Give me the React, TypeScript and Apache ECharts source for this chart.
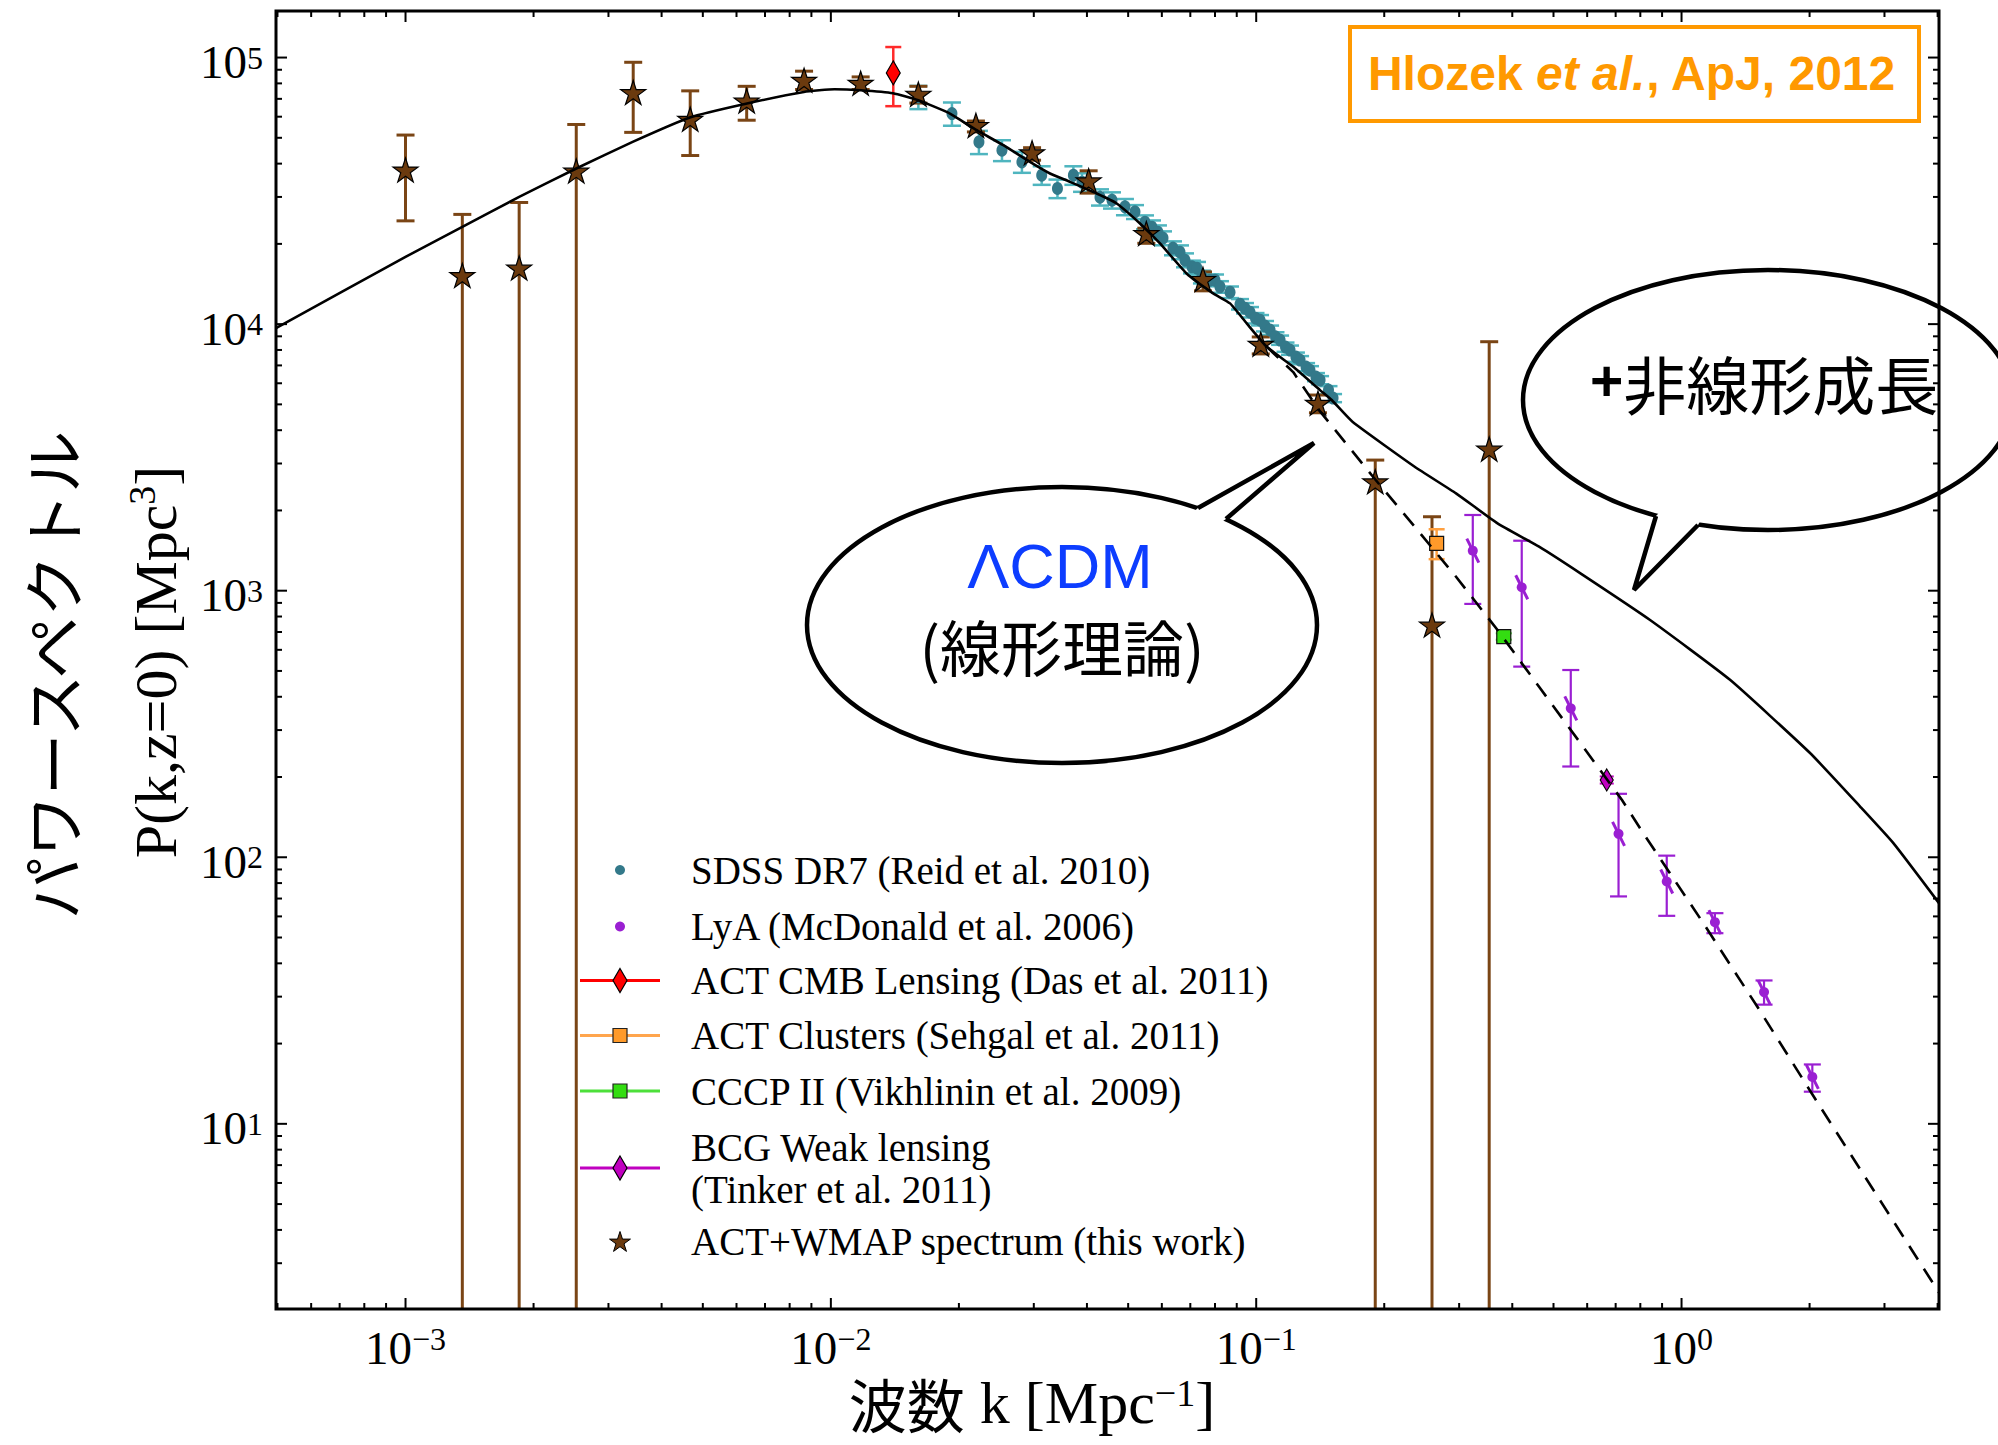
import { useEffect, useRef } from "react";
import * as echarts from "echarts";

// Axis ranges: wavenumber k [Mpc^-1] and power P(k, z=0) [Mpc^3]
const K_MIN = 4.96e-4;
const K_MAX = 4.03;
const P_MIN = 2.02;
const P_MAX = 1.495e5;

// Model curve including nonlinear growth (solid)
const nonlinK = [4.96e-4, 1.0e-3, 1.36e-3, 1.85e-3, 2.52e-3, 3.42e-3, 4.66e-3, 6.35e-3, 8.64e-3, 0.0102, 0.01175, 0.014, 0.01606, 0.01905, 0.02203, 0.02543, 0.02938, 0.03275, 0.03649, 0.04217, 0.04699, 0.0533, 0.0594, 0.0686, 0.0792, 0.0868, 0.095, 0.1059, 0.1222, 0.1413, 0.1505, 0.1684, 0.2358, 0.295, 0.3693, 0.4624, 0.5785, 0.8433, 1.3, 2.005, 2.629, 3.148, 4.03];
const nonlinP = [9660, 17880, 23170, 30020, 38360, 48260, 59570, 67220, 74300, 76050, 75400, 73470, 69160, 61660, 53390, 46910, 40600, 36730, 34170, 30900, 28360, 23860, 20070, 15490, 13040, 11960, 10060, 8220, 6920, 5655, 5190, 4302, 2917, 2318, 1789, 1462, 1161, 776, 463, 246, 155, 113, 67.3];

// Linear-theory ΛCDM continuation (dashed)
const linK = [0.1059, 0.1222, 0.1405, 0.1882, 0.2358, 0.295, 0.3693, 0.4624, 0.5785, 0.7244, 0.8131, 1.125, 1.53, 2.117, 4.03];
const linP = [8220, 6607, 4760, 2676, 1738, 1128, 712, 436, 268, 164, 123, 56.6, 26.5, 11.6, 2.33];

// SDSS DR7 (Reid et al. 2010): k, P and fractional 1-sigma error
const sdssK = [0.01606, 0.01926, 0.02229, 0.02525, 0.02813, 0.03131, 0.0341, 0.03717, 0.03895, 0.04293, 0.04581, 0.04914, 0.05188, 0.05477, 0.05689, 0.05875, 0.06038, 0.06373, 0.0662, 0.06802, 0.07063, 0.07258, 0.07455, 0.07786, 0.08, 0.08219, 0.08678, 0.0916, 0.09412, 0.09669, 0.09963, 0.1021, 0.1049, 0.1078, 0.111, 0.1138, 0.1172, 0.1201, 0.124, 0.1268, 0.131, 0.1338, 0.1382, 0.1413, 0.1479, 0.1516];
const sdssP = [71170, 61660, 48260, 44920, 40600, 36200, 32270, 36200, 34080, 29940, 29170, 27540, 26370, 24130, 23100, 22130, 21020, 19280, 18620, 17380, 16400, 16220, 15040, 14620, 14620, 13800, 13180, 11880, 11480, 11090, 10530, 10350, 9830, 9495, 8964, 8710, 8200, 7990, 7520, 7330, 6900, 6720, 6330, 6166, 5655, 5280];
const sdssErr = [0.1, 0.1, 0.1, 0.09, 0.09, 0.08, 0.08, 0.08, 0.08, 0.07, 0.07, 0.07, 0.06, 0.06, 0.06, 0.06, 0.06, 0.06, 0.06, 0.06, 0.055, 0.055, 0.055, 0.05, 0.05, 0.05, 0.05, 0.045, 0.045, 0.045, 0.045, 0.045, 0.045, 0.04, 0.04, 0.04, 0.04, 0.04, 0.04, 0.035, 0.035, 0.035, 0.035, 0.035, 0.035, 0.035];

// Lyman-alpha forest (McDonald et al. 2006)
const lyaK = [0.323, 0.421, 0.549, 0.711, 0.923, 1.198, 1.563, 2.03];
const lyaP = [1413, 1030, 362, 122.4, 81.1, 57.1, 31.2, 15.0];
const lyaLo = [892, 519, 219, 71.3, 60.3, 51.9, 28.0, 13.2];
const lyaHi = [1923, 1540, 504, 173, 101.4, 61.7, 34.5, 16.7];

// ACT+WMAP reconstructed spectrum; a lower bound of 1 runs off the bottom of the axis
const actK = [0.001, 0.00136, 0.00185, 0.00252, 0.00343, 0.00467, 0.00634, 0.00865, 0.01175, 0.01606, 0.02193, 0.02972, 0.04037, 0.05517, 0.07497, 0.1025, 0.1397, 0.1905, 0.259, 0.353];
const actP = [37550, 15100, 16100, 37200, 73300, 58200, 68200, 81500, 79400, 72300, 55200, 43600, 34200, 21700, 14600, 8340, 5010, 2540, 737, 3370];
const actLo = [24400, 1, 1, 1, 52400, 42900, 58200, 75900, 75900, 67500, 52600, 41200, 31000, 20100, 13330, 7730, 4650, 1, 1, 1];
const actHi = [51200, 25800, 28600, 56100, 96000, 75000, 78000, 88900, 84600, 78000, 57800, 45900, 37600, 22900, 15700, 8950, 5420, 3090, 1894, 8590];

// Single-point probes: [k, P, lower, upper]
const lensPoint = [0.01402, 87600, 65700, 109500];
const clusterPoint = [0.2656, 1506, 1313, 1700];
const cccpPoint = [0.382, 673, 655, 692];
const bcgPoint = [0.667, 195, 189, 201];

// Legend entries
const legendLabels = [
  "SDSS DR7 (Reid et al. 2010)",
  "LyA (McDonald et al. 2006)",
  "ACT CMB Lensing (Das et al. 2011)",
  "ACT Clusters (Sehgal et al. 2011)",
  "CCCP II (Vikhlinin et al. 2009)",
  "BCG Weak lensing\n(Tinker et al. 2011)",
  "ACT+WMAP spectrum (this work)",
];

const SERIF = "'Liberation Serif', 'Times New Roman', serif";
const SANS = "'Liberation Sans', Arial, sans-serif";
const CJK = "'Noto Sans CJK JP', sans-serif";

const C_SDSS = "#33798a";
const C_SDSS_ERR = "#4fb5bf";
const C_LYA = "#9a1fd2";
const C_ACT = "#6b3a0e";
const C_ACT_ERR = "#7a4515";
const C_LENS = "#ff0000";
const C_CLUSTER = "#ff9a2a";
const C_CCCP = "#33dd11";
const C_BCG = "#c000c0";

const STAR_PATH =
  "path://M0,-100L22.45,-30.9L95.1,-30.9L36.33,11.8L58.78,80.9L0,38.2L-58.78,80.9L-36.33,11.8L-95.1,-30.9L-22.45,-30.9Z";

function starPoints(cx: number, cy: number, r: number) {
  const pts: number[][] = [];
  for (let i = 0; i < 10; i++) {
    const rr = i % 2 === 0 ? r : r * 0.382;
    const a = -Math.PI / 2 + (i * Math.PI) / 5;
    pts.push([cx + rr * Math.cos(a), cy + rr * Math.sin(a)]);
  }
  return pts;
}

function errorBars(color: string, lineWidth: number, cap: number, slant = false) {
  return (_p: any, api: any) => {
    const k = api.value(0);
    const p = api.value(1);
    const top = api.coord([k, api.value(3)]);
    const bot = api.coord([k, api.value(2)]);
    const style = { stroke: color, lineWidth };
    const children: any[] = [
      { type: "line", shape: { x1: top[0], y1: top[1], x2: bot[0], y2: bot[1] }, style },
      { type: "line", shape: { x1: top[0] - cap, y1: top[1], x2: top[0] + cap, y2: top[1] }, style },
      { type: "line", shape: { x1: bot[0] - cap, y1: bot[1], x2: bot[0] + cap, y2: bot[1] }, style },
    ];
    if (slant) {
      const c = api.coord([k, p]);
      children.push({
        type: "line",
        shape: { x1: c[0] - 6, y1: c[1] - 12, x2: c[0] + 6, y2: c[1] + 12 },
        style: { stroke: color, lineWidth: 3 },
      });
    }
    return { type: "group", children };
  };
}

function tickValues(e0: number, e1: number, lo: number, hi: number) {
  const out: { v: number; major: number }[] = [];
  for (let e = e0; e <= e1; e++) {
    for (let m = 1; m <= 9; m++) {
      const v = m * Math.pow(10, e);
      if (v > lo * 1.001 && v < hi * 0.999) out.push({ v, major: m === 1 ? 1 : 0 });
    }
  }
  return out;
}

function powerLabel(v: number) {
  const e = Math.round(Math.log10(v));
  return `{b|10}{s|${e < 0 ? "\u2212" + -e : e}}`;
}

function buildOption() {
  const zip4 = (k: number[], p: number[], lo: number[], hi: number[]) => k.map((x, i) => [x, p[i], lo[i], hi[i]]);
  const sdssRows = sdssK.map((k, i) => [k, sdssP[i], sdssP[i] * (1 - sdssErr[i]), sdssP[i] * (1 + sdssErr[i])]);

  const xTicks = tickValues(-4, 0, K_MIN, K_MAX).map((t) => [t.v, P_MIN, t.major]);
  const yTicks = tickValues(0, 5, P_MIN, P_MAX).map((t) => [K_MIN, t.v, t.major]);

  const legendY = [870, 926.5, 980.5, 1035.5, 1091, 1168, 1241.5];
  const IX = 620;
  const TX = 691;

  const legendIcons: any[] = [
    { type: "circle", shape: { cx: IX, cy: legendY[0], r: 5 }, style: { fill: C_SDSS } },
    { type: "circle", shape: { cx: IX, cy: legendY[1], r: 5 }, style: { fill: C_LYA } },
    { type: "line", shape: { x1: 580, y1: legendY[2], x2: 660, y2: legendY[2] }, style: { stroke: C_LENS, lineWidth: 3 } },
    {
      type: "polygon",
      shape: { points: [[IX, legendY[2] - 12], [IX + 7, legendY[2]], [IX, legendY[2] + 12], [IX - 7, legendY[2]]] },
      style: { fill: C_LENS, stroke: "#000", lineWidth: 1.2 },
    },
    { type: "line", shape: { x1: 580, y1: legendY[3], x2: 660, y2: legendY[3] }, style: { stroke: "#ffa54d", lineWidth: 3 } },
    { type: "rect", shape: { x: IX - 7, y: legendY[3] - 7, width: 14, height: 14 }, style: { fill: C_CLUSTER, stroke: "#222", lineWidth: 1.2 } },
    { type: "line", shape: { x1: 580, y1: legendY[4], x2: 660, y2: legendY[4] }, style: { stroke: "#4de03a", lineWidth: 3 } },
    { type: "rect", shape: { x: IX - 7, y: legendY[4] - 7, width: 14, height: 14 }, style: { fill: C_CCCP, stroke: "#222", lineWidth: 1.2 } },
    { type: "line", shape: { x1: 580, y1: legendY[5], x2: 660, y2: legendY[5] }, style: { stroke: C_BCG, lineWidth: 3 } },
    {
      type: "polygon",
      shape: { points: [[IX, legendY[5] - 12], [IX + 7, legendY[5]], [IX, legendY[5] + 12], [IX - 7, legendY[5]]] },
      style: { fill: C_BCG, stroke: "#000", lineWidth: 1.2 },
    },
    { type: "polygon", shape: { points: starPoints(IX, legendY[6] + 1, 11) }, style: { fill: C_ACT, stroke: "#000", lineWidth: 1 } },
  ];
  const legendTexts = legendLabels.map((label, i) => ({
    type: "text",
    x: TX,
    y: legendY[i],
    style: {
      text: label,
      fill: "#000",
      fontFamily: SERIF,
      fontSize: 39,
      lineHeight: 42,
      align: "left",
      verticalAlign: "middle",
    },
  }));

  const bubbleLeft = {
    ellipse: { cx: 1062, cy: 625, rx: 255, ry: 138 },
    tail: [[1198, 508], [1314, 443], [1226, 519]],
    inner: [[1189.8, 515], [1216.2, 525.4]],
  };
  const bubbleRight = {
    ellipse: { cx: 1768, cy: 400, rx: 245, ry: 130 },
    tail: [[1656, 516], [1634, 590], [1698, 525]],
    inner: [[1662.7, 509], [1702.2, 517.5]],
  };
  const bubble = (b: any) => [
    { type: "ellipse", z: 1, shape: b.ellipse, style: { fill: "#fff", stroke: "#000", lineWidth: 4.5 } },
    {
      type: "polygon",
      z: 1,
      shape: { points: [b.inner[0], b.tail[0], b.tail[1], b.tail[2], b.inner[1]] },
      style: { fill: "#fff" },
    },
    { type: "polyline", z: 1, shape: { points: b.tail }, style: { stroke: "#000", lineWidth: 4.5, fill: null, lineJoin: "miter" } },
  ];

  const graphics: any[] = [
    // Citation box
    {
      type: "rect",
      z: 1,
      shape: { x: 1350, y: 27, width: 569, height: 94 },
      style: { fill: "#fff", stroke: "#ff9900", lineWidth: 4 },
    },
    {
      type: "text",
      z: 1,
      x: 1632,
      y: 73,
      style: {
        text: "{n|Hlozek }{i|et al.}{n|, ApJ, 2012}",
        align: "center",
        verticalAlign: "middle",
        rich: {
          n: { fontFamily: SANS, fontWeight: "bold", fontSize: 48, fill: "#ff9900" },
          i: { fontFamily: SANS, fontWeight: "bold", fontStyle: "italic", fontSize: 48, fill: "#ff9900" },
        },
      },
    },
    ...bubble(bubbleLeft),
    {
      type: "text",
      z: 1,
      x: 1060,
      y: 566,
      style: { text: "ΛCDM", fill: "#0d3dff", fontFamily: SANS, fontSize: 63, align: "center", verticalAlign: "middle" },
    },
    {
      type: "text",
      z: 1,
      x: 1062,
      y: 645,
      style: { text: "(線形理論)", fill: "#000", fontFamily: CJK, fontSize: 61, align: "center", verticalAlign: "middle" },
    },
    ...bubble(bubbleRight),
    {
      type: "text",
      z: 1,
      x: 1590,
      y: 381,
      style: {
        text: "{p|+}{j|非線形成長}",
        align: "left",
        verticalAlign: "middle",
        rich: {
          p: { fontFamily: SANS, fontWeight: "bold", fontSize: 57, fill: "#000" },
          j: { fontFamily: CJK, fontSize: 63, fill: "#000" },
        },
      },
    },
    // Axis titles
    {
      type: "text",
      x: 1032,
      y: 1403,
      style: {
        text: "{j|波数}{t| k [Mpc}{s|\u22121}{t|]}",
        align: "center",
        verticalAlign: "middle",
        rich: {
          j: { fontFamily: CJK, fontSize: 58, fill: "#000", lineHeight: 58 },
          t: { fontFamily: SERIF, fontSize: 60, fill: "#000", lineHeight: 58 },
          s: { fontFamily: SERIF, fontSize: 38, fill: "#000", verticalAlign: "top", lineHeight: 40 },
        },
      },
    },
    {
      type: "text",
      x: 51,
      y: 675,
      rotation: Math.PI / 2,
      style: { text: "パワースペクトル", fill: "#000", fontFamily: CJK, fontSize: 62, align: "center", verticalAlign: "middle" },
    },
    {
      type: "text",
      x: 156,
      y: 662,
      rotation: Math.PI / 2,
      style: {
        text: "{t|P(k,z=0) [Mpc}{s|3}{t|]}",
        align: "center",
        verticalAlign: "middle",
        rich: {
          t: { fontFamily: SERIF, fontSize: 60, fill: "#000", lineHeight: 66 },
          s: { fontFamily: SERIF, fontSize: 38, fill: "#000", verticalAlign: "top", lineHeight: 46 },
        },
      },
    },
    ...legendIcons,
    ...legendTexts,
  ];

  const labelBase = { color: "#000", fontFamily: SERIF };

  return {
    animation: false,
    backgroundColor: "#fff",
    grid: { left: 276, top: 11, width: 1663, height: 1298, outerBoundsMode: "none", containLabel: false },
    xAxis: {
      type: "log",
      logBase: 10,
      min: K_MIN,
      max: K_MAX,
      axisLine: { show: false },
      axisTick: { show: false },
      minorTick: { show: false },
      splitLine: { show: false },
      axisLabel: {
        showMinLabel: false,
        showMaxLabel: false,
        margin: 14,
        formatter: powerLabel,
        rich: {
          b: { ...labelBase, fontSize: 47, lineHeight: 50 },
          s: { ...labelBase, fontSize: 32, lineHeight: 30, verticalAlign: "top" },
        },
      },
    },
    yAxis: {
      type: "log",
      logBase: 10,
      min: P_MIN,
      max: P_MAX,
      axisLine: { show: false },
      axisTick: { show: false },
      minorTick: { show: false },
      splitLine: { show: false },
      axisLabel: {
        showMinLabel: false,
        showMaxLabel: false,
        margin: 13,
        formatter: powerLabel,
        rich: {
          b: { ...labelBase, fontSize: 47, lineHeight: 50, padding: [9, 0, 0, 0] },
          s: { ...labelBase, fontSize: 32, lineHeight: 30 },
        },
      },
    },
    graphic: { elements: graphics },
    series: [
      {
        name: "SDSS errors",
        type: "custom",
        silent: true,
        clip: true,
        encode: { x: 0, y: 1 },
        renderItem: errorBars(C_SDSS_ERR, 2.5, 9),
        data: sdssRows,
      },
      {
        name: "SDSS DR7 (Reid et al. 2010)",
        type: "scatter",
        silent: true,
        symbol: "circle",
        symbolSize: [11, 13],
        itemStyle: { color: C_SDSS, opacity: 1 },
        data: sdssK.map((k, i) => [k, sdssP[i]]),
      },
      {
        name: "nonlinear",
        type: "line",
        silent: true,
        showSymbol: false,
        symbol: "none",
        clip: true,
        smooth: 0.15,
        lineStyle: { color: "#000", width: 2.6 },
        data: nonlinK.map((k, i) => [k, nonlinP[i]]),
      },
      {
        name: "linear",
        type: "line",
        silent: true,
        showSymbol: false,
        symbol: "none",
        clip: true,
        lineStyle: { color: "#000", width: 2.6, type: [16, 11] },
        data: linK.map((k, i) => [k, linP[i]]),
      },
      {
        name: "ACT+WMAP errors",
        type: "custom",
        silent: true,
        clip: true,
        encode: { x: 0, y: 1 },
        renderItem: errorBars(C_ACT_ERR, 3, 9),
        data: zip4(actK, actP, actLo, actHi),
      },
      {
        name: "ACT+WMAP spectrum (this work)",
        type: "scatter",
        silent: true,
        symbol: STAR_PATH,
        symbolSize: [25, 24],
        symbolOffset: [0, -1],
        itemStyle: { color: C_ACT, borderColor: "#000", borderWidth: 1.2, opacity: 1 },
        data: actK.map((k, i) => [k, actP[i]]),
      },
      {
        name: "lens errors",
        type: "custom",
        silent: true,
        clip: true,
        encode: { x: 0, y: 1 },
        renderItem: errorBars("#ff2a2a", 2.5, 8),
        data: [lensPoint],
      },
      {
        name: "ACT CMB Lensing (Das et al. 2011)",
        type: "scatter",
        silent: true,
        symbol: "diamond",
        symbolSize: [14, 24],
        itemStyle: { color: C_LENS, borderColor: "#000", borderWidth: 1.2, opacity: 1 },
        data: [[lensPoint[0], lensPoint[1]]],
      },
      {
        name: "cluster errors",
        type: "custom",
        silent: true,
        clip: true,
        encode: { x: 0, y: 1 },
        renderItem: errorBars("#ffa040", 2.5, 8),
        data: [clusterPoint],
      },
      {
        name: "ACT Clusters (Sehgal et al. 2011)",
        type: "scatter",
        silent: true,
        symbol: "rect",
        symbolSize: 14,
        itemStyle: { color: C_CLUSTER, borderColor: "#111", borderWidth: 1.2, opacity: 1 },
        data: [[clusterPoint[0], clusterPoint[1]]],
      },
      {
        name: "cccp errors",
        type: "custom",
        silent: true,
        clip: true,
        encode: { x: 0, y: 1 },
        renderItem: errorBars("#4de03a", 2, 8),
        data: [cccpPoint],
      },
      {
        name: "CCCP II (Vikhlinin et al. 2009)",
        type: "scatter",
        silent: true,
        symbol: "rect",
        symbolSize: 14,
        itemStyle: { color: C_CCCP, borderColor: "#111", borderWidth: 1.2, opacity: 1 },
        data: [[cccpPoint[0], cccpPoint[1]]],
      },
      {
        name: "LyA errors",
        type: "custom",
        silent: true,
        clip: true,
        encode: { x: 0, y: 1 },
        renderItem: errorBars(C_LYA, 2.2, 8.5, true),
        data: zip4(lyaK, lyaP, lyaLo, lyaHi),
      },
      {
        name: "LyA (McDonald et al. 2006)",
        type: "scatter",
        silent: true,
        symbol: "circle",
        symbolSize: 10,
        itemStyle: { color: C_LYA, opacity: 1 },
        data: lyaK.map((k, i) => [k, lyaP[i]]),
      },
      {
        name: "bcg errors",
        type: "custom",
        silent: true,
        clip: true,
        encode: { x: 0, y: 1 },
        renderItem: errorBars(C_BCG, 2, 7),
        data: [bcgPoint],
      },
      {
        name: "BCG Weak lensing (Tinker et al. 2011)",
        type: "scatter",
        silent: true,
        symbol: "diamond",
        symbolSize: [13, 22],
        itemStyle: { color: C_BCG, borderColor: "#000", borderWidth: 1.2, opacity: 1 },
        data: [[bcgPoint[0], bcgPoint[1]]],
      },
      {
        name: "x ticks",
        type: "custom",
        silent: true,
        z: 10,
        encode: { x: 0, y: 1 },
        renderItem: (_p: any, api: any) => {
          const k = api.value(0);
          const len = api.value(2) ? 11 : 6;
          const b = api.coord([k, P_MIN]);
          const t = api.coord([k, P_MAX]);
          const style = { stroke: "#000", lineWidth: 2 };
          return {
            type: "group",
            children: [
              { type: "line", shape: { x1: b[0], y1: b[1], x2: b[0], y2: b[1] - len }, style },
              { type: "line", shape: { x1: t[0], y1: t[1], x2: t[0], y2: t[1] + len }, style },
            ],
          };
        },
        data: xTicks,
      },
      {
        name: "y ticks",
        type: "custom",
        silent: true,
        z: 10,
        encode: { x: 0, y: 1 },
        renderItem: (_p: any, api: any) => {
          const p = api.value(1);
          const len = api.value(2) ? 11 : 6;
          const l = api.coord([K_MIN, p]);
          const r = api.coord([K_MAX, p]);
          const style = { stroke: "#000", lineWidth: 2 };
          return {
            type: "group",
            children: [
              { type: "line", shape: { x1: l[0], y1: l[1], x2: l[0] + len, y2: l[1] }, style },
              { type: "line", shape: { x1: r[0], y1: r[1], x2: r[0] - len, y2: r[1] }, style },
            ],
          };
        },
        data: yTicks,
      },
      {
        name: "frame",
        type: "custom",
        silent: true,
        z: 11,
        encode: { x: 0, y: 1 },
        renderItem: (_p: any, api: any) => {
          const tl = api.coord([K_MIN, P_MAX]);
          const br = api.coord([K_MAX, P_MIN]);
          return {
            type: "rect",
            shape: { x: tl[0], y: tl[1], width: br[0] - tl[0], height: br[1] - tl[1] },
            style: { fill: null, stroke: "#000", lineWidth: 3 },
          };
        },
        data: [[K_MIN, P_MIN]],
      },
    ],
  };
}

export default function App() {
  const ref = useRef<HTMLDivElement>(null);
  useEffect(() => {
    if (!ref.current) return;
    const chart = echarts.init(ref.current, null, { renderer: "svg" });
    chart.setOption(buildOption() as any);
    return () => chart.dispose();
  }, []);
  return (
    <div
      ref={ref}
      style={{ position: "fixed", left: 0, top: 0, width: 1998, height: 1445, background: "#fff" }}
    />
  );
}
